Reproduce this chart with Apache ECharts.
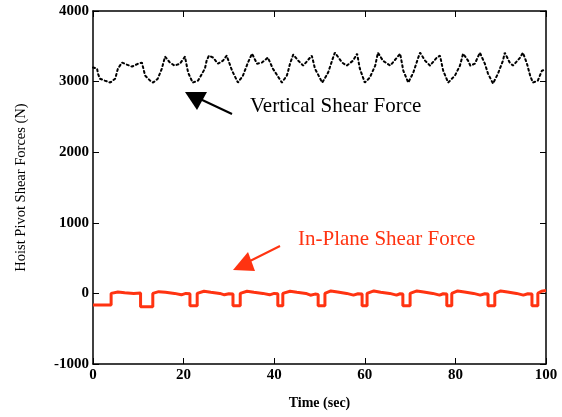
<!DOCTYPE html>
<html><head><meta charset="utf-8">
<script src="https://cdn.jsdelivr.net/npm/echarts@6/dist/echarts.min.js"></script>
<style>html,body{margin:0;padding:0;background:#fff}#c{width:562px;height:417px}</style>
</head><body><div id="c"></div>
<script>
// Vertical shear force (black dotted)
var vertT = [0,0.9,1.1,1.5,2.6,3.8,4.9,5.5,6.4,7.5,8.6,10,10.8,11.5,12.6,13.3,14.3,15.2,15.9,17,18,19.2,20.3,21,22,23.2,24.7,25.1,25.6,26.5,27.6,28.7,29.5,30.7,32,33.1,34.2,35.1,36.2,37.3,38.6,39.7,41.7,42.8,43.5,44.2,45.3,46.4,48.3,49,50.6,51.9,53,53.4,55,56,57.4,58.3,58.9,60,61.1,62.3,62.9,64,65.6,67.1,67.8,68.5,69.6,70.7,71.8,72.2,73.3,74.4,75.9,76.6,77.3,78.4,79.9,81,81.7,82.8,83.3,84.3,85.4,86.5,87.2,88.3,89.4,90.5,90.9,92,92.7,94.3,94.9,95.8,96.5,97.1,98.2,99.1,100];
var vertF = [3200,3184,3113,3042,3014,2986,3042,3184,3269,3240,3212,3254,3269,3085,3014,2986,3042,3184,3353,3269,3226,3254,3353,3127,2986,3014,3184,3300,3368,3340,3254,3297,3368,3155,2986,3085,3269,3396,3254,3269,3340,3184,2986,3085,3254,3382,3297,3226,3368,3184,2986,3127,3340,3410,3269,3226,3297,3396,3184,2986,3056,3226,3410,3297,3226,3340,3396,3155,2986,3127,3340,3410,3297,3226,3340,3368,3155,2986,3085,3226,3396,3297,3226,3254,3410,3254,3113,2972,3113,3297,3410,3269,3226,3340,3410,3254,3085,2986,3014,3155,3170];
// In-plane shear force (red step-like)
var planeT = [0,4,4,5.5,7,9,10.5,10.5,13.2,13.2,14.5,16,18,19.5,20.5,21.4,21.4,23,23,24.5,26,28,29,30,30.9,30.9,32.5,32.5,34,35.5,37.5,39,40,40.8,40.8,41.9,41.9,43.5,45,47,48,49,49.7,49.7,51.2,51.2,52.5,54,56,57.5,58.5,59.4,59.4,60.5,60.5,62,63.5,65.5,67,67.8,68.4,68.4,70,70,71.5,73,75,76.5,77.3,78.1,78.1,79.2,79.2,80.5,82,84,85.5,86.5,87.2,87.2,88.7,88.7,90,91.5,93.5,95,96,96.9,96.9,98.2,98.2,99,100];
var planeF = [-165,-165,0,20,10,0,5,-190,-190,0,25,15,0,-20,0,-5,-175,-175,0,30,15,0,-20,-5,-10,-175,-175,0,30,15,0,-20,0,-5,-175,-175,0,30,15,0,-25,-10,-15,-175,-175,0,35,20,0,-25,-5,-10,-175,-175,0,35,15,0,-25,-5,-10,-175,-175,0,35,20,0,-25,-5,-10,-175,-175,0,35,20,0,-25,-5,-10,-175,-175,0,35,20,0,-25,-5,-10,-175,-175,0,30,40];
var xTicks = {min:0, max:100, interval:20};
var yTicks = {min:-1000, max:4000, interval:1000};

var vertData = vertT.map(function(t,i){return [t, vertF[i]];});
var planeData = planeT.map(function(t,i){return [t, planeF[i]];});

var serif = 'Liberation Serif';
var chart = echarts.init(document.getElementById('c'));
function aLine(){ return {show:true, onZero:false, lineStyle:{color:'#000', width:1.5}}; }
var tick = {show:true, inside:true, length:6, lineStyle:{color:'#000', width:1}};
chart.setOption({
  animation:false,
  grid:{left:93, right:16, top:11, bottom:53},
  xAxis:[{type:'value', min:xTicks.min, max:xTicks.max, interval:xTicks.interval,
    name:'Time (sec)', nameLocation:'middle', nameGap:32,
    nameTextStyle:{fontFamily:serif, fontSize:14, fontWeight:'bold', color:'#000'},
    axisLine:aLine(), axisTick:tick, splitLine:{show:false},
    axisLabel:{fontFamily:serif, fontSize:15, fontWeight:'bold', color:'#000', margin:4, formatter:function(v){return String(v);}}},
    {type:'value', position:'top', min:xTicks.min, max:xTicks.max, interval:xTicks.interval,
    axisLine:aLine(), axisTick:tick, axisLabel:{show:false}, splitLine:{show:false}}],
  yAxis:[{type:'value', min:yTicks.min, max:yTicks.max, interval:yTicks.interval,
    name:'Hoist Pivot Shear Forces (N)', nameLocation:'middle', nameGap:64,
    nameTextStyle:{fontFamily:serif, fontSize:14.5, color:'#000'},
    axisLine:aLine(), axisTick:tick, splitLine:{show:false},
    axisLabel:{fontFamily:serif, fontSize:15, fontWeight:'bold', color:'#000', margin:4, formatter:function(v){return String(v);}}},
    {type:'value', position:'right', min:yTicks.min, max:yTicks.max, interval:yTicks.interval,
    axisLine:aLine(), axisTick:tick, axisLabel:{show:false}, splitLine:{show:false}}],
  series:[
    {type:'line', data:vertData, showSymbol:false, lineStyle:{color:'#000', width:2, type:[2,3], cap:'round'}},
    {type:'line', data:planeData, showSymbol:false, lineStyle:{color:'#ff3311', width:3}}
  ],
  graphic:[
    {type:'text', left:250, top:96, style:{text:'Vertical Shear Force', font:'21px "Liberation Serif"', fill:'#000'}},
    {type:'line', shape:{x1:232, y1:114, x2:198, y2:98}, style:{stroke:'#000', lineWidth:2}},
    {type:'polygon', shape:{points:[[185,92],[207,92],[197,110]]}, style:{fill:'#000'}},
    {type:'text', left:298, top:229, style:{text:'In-Plane Shear Force', font:'21px "Liberation Serif"', fill:'#ff3311'}},
    {type:'line', shape:{x1:280, y1:246, x2:248, y2:262}, style:{stroke:'#ff3311', lineWidth:2}},
    {type:'polygon', shape:{points:[[233,270],[255,271],[248,252]]}, style:{fill:'#ff3311'}}
  ]
});
</script></body></html>
